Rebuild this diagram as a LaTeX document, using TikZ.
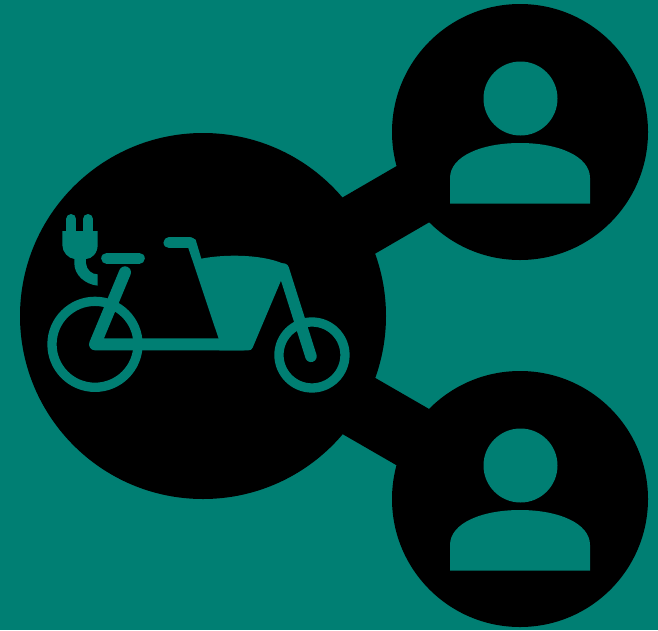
\documentclass[tikz,border=0pt]{standalone}
\definecolor{teal0}{HTML}{007F73}
\tikzset{
  hub/.style={circle,fill=black,draw=none,inner sep=0pt,minimum size=366pt},
  userdisc/.style={circle,fill=black,draw=none,inner sep=0pt,minimum size=256pt},
  link/.style={line width=65pt,draw=black},
  icon/.style={draw=teal0,line cap=round,line join=round},
  iconfill/.style={fill=teal0,draw=none},
  person/.pic={
    \fill[teal0] (0.5,-33.5) circle (37);
    \fill[teal0] (-70,71.5) -- (-70,46) .. controls (-70,24) and (-38,11) .. (0,11)
      .. controls (38,11) and (70,24) .. (70,46) -- (70,71.5) -- cycle;
  }
}
\begin{document}
\begin{tikzpicture}[x=1pt,y=-1pt]
\useasboundingbox (0,0) rectangle (658,630);
\fill[teal0] (0,0) rectangle (658,630);
\node[hub] (bike) at (203,316) {};
\node[userdisc] (userA) at (520,132) {};
\node[userdisc] (userB) at (520,499) {};
\draw[link] (bike.center) -- (userA.center);
\draw[link] (bike.center) -- (userB.center);
\pic at (520,132) {person};
\pic at (520,499) {person};
\begin{scope}[shift={(30,195)},x=0.3333pt,y=-0.3333pt]
  % wheels
  \draw[icon,line width=9.3pt] (195,448) circle (129);
  \draw[icon,line width=9.3pt] (846,480) circle (99);
  % frame
  \draw[icon,line width=12pt] (285,232) -- (195,448) -- (640,448);
  \draw[icon,line width=11pt] (230,190) -- (328,190);
  \draw[icon,line width=11pt] (417,143) -- (480,143);
  \draw[icon,line width=11.5pt] (760,222) -- (843,484);
  % basket and steering post
  \fill[iconfill] (474,156) -- (484,127) -- (497,134) -- (514,191)
    .. controls (590,176) and (710,178) .. (772,212)
    -- (668,458) .. controls (665,464) and (662,466) .. (655,466) -- (568,466) -- (566,431) -- cycle;
  % plug
  \draw[icon,line width=10pt] (124,72) -- (124,112);
  \draw[icon,line width=10pt] (174,72) -- (174,112);
  \fill[iconfill] (97,108) -- (203,108) -- (203,150) .. controls (203,175) and (185,192) .. (168,192)
    -- (168,205) .. controls (170,225) and (185,238) .. (203,238) -- (203,272)
    .. controls (165,268) and (133,240) .. (133,205) -- (133,192)
    .. controls (115,190) and (97,172) .. (97,150) -- cycle;
\end{scope}
\end{tikzpicture}
\end{document}
